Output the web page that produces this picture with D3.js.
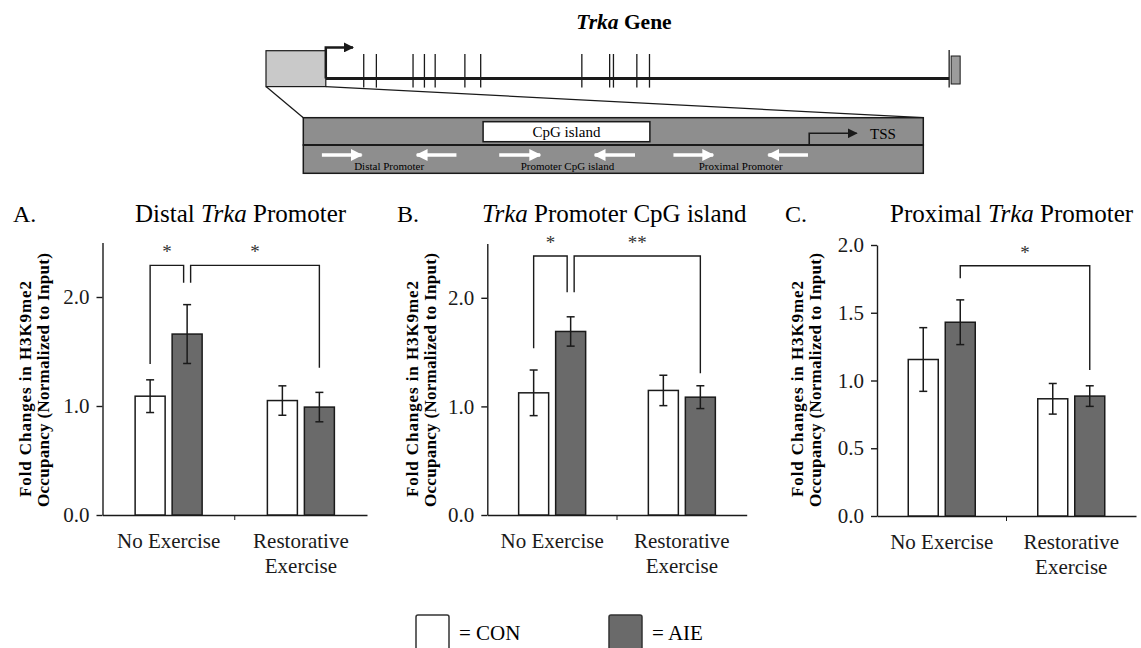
<!DOCTYPE html>
<html>
<head>
<meta charset="utf-8">
<script src="https://cdn.jsdelivr.net/npm/d3@7"></script>
<style>
  body { margin: 0; background: #fff; }
  svg { display: block; font-family: 'Liberation Serif', 'Times New Roman', serif; }
</style>
</head>
<body>
<div class="canvas"></div>
<script>
// ---- data ----
const groups = ['No Exercise', 'Restorative Exercise']
const groupLines = [['No Exercise'], ['Restorative', 'Exercise']]
const series = ['CON', 'AIE']

const distalCon = [1.09, 1.05]
const distalConErr = [0.15, 0.135]
const distalAie = [1.66, 0.99]
const distalAieErr = [0.27, 0.135]

const cpgCon = [1.125, 1.147]
const cpgConErr = [0.21, 0.14]
const cpgAie = [1.69, 1.085]
const cpgAieErr = [0.135, 0.105]

const proximalCon = [1.155, 0.865]
const proximalConErr = [0.235, 0.113]
const proximalAie = [1.43, 0.885]
const proximalAieErr = [0.165, 0.076]

const ticksAB = [0, 1, 2]
const ticksC = [0, 0.5, 1, 1.5, 2]

// brackets: from [group, series] to [group, series], top value, leg ends, label
const distalBrackets = [
    { from: [0, 'CON'], to: [0, 'AIE'], top: 2.29, legs: [1.385, 2.13], label: '*', shift: [0, -3.5] },
    { from: [0, 'AIE'], to: [1, 'AIE'], top: 2.29, legs: [2.13, 1.35], label: '*', shift: [3.5, 0] }
]
const cpgBrackets = [
    { from: [0, 'CON'], to: [0, 'AIE'], top: 2.385, legs: [1.535, 2.05], label: '*', shift: [0, -3.5] },
    { from: [0, 'AIE'], to: [1, 'AIE'], top: 2.385, legs: [2.05, 1.305], label: '**', shift: [3.5, 0] }
]
const proximalBrackets = [
    { from: [0, 'AIE'], to: [1, 'AIE'], top: 1.847, legs: [1.754, 1.077], label: '*', shift: [0, 0] }
]

// gene schematic (positions in % of gene / promoter length)
const exonPositions = [6.0, 8.0, 13.8, 15.6, 17.3, 22.0, 24.5, 40.5, 44.9, 45.5, 49.2, 51.2, 98.6]
const cpgIsland = [29.0, 55.9]
const tssPosition = 81.6
const primers = [
    { name: 'Distal Promoter', fwd: [3.0, 9.4], rev: [24.7, 18.3] },
    { name: 'Promoter CpG island', fwd: [31.6, 38.2], rev: [53.5, 47.0] },
    { name: 'Proximal Promoter', fwd: [59.7, 66.1], rev: [81.4, 75.0] }
]

// ---- layout ----
const colors = { CON: '#ffffff', AIE: '#6a6a6a' }
const ink = '#1a1a1a'

const svg = d3.select('.canvas')
    .append('svg')
    .attr('width', 1141)
    .attr('height', 648)

const defs = svg.append('defs')
const marker = (id, color, size) => defs.append('marker')
    .attr('id', id)
    .attr('viewBox', '0 0 10 10')
    .attr('refX', 9).attr('refY', 5)
    .attr('markerWidth', size).attr('markerHeight', size)
    .attr('markerUnits', 'userSpaceOnUse')
    .attr('orient', 'auto')
    .append('path')
    .attr('d', 'M0,0 L10,5 L0,10 z')
    .attr('fill', color)
marker('headBlack', ink, 10)
marker('headWhite', '#fff', 12)

// ---- gene schematic ----
const gene = svg.append('g')
const geneX = d3.scaleLinear().domain([0, 100]).range([325.8, 958])
const promX = d3.scaleLinear().domain([0, 100]).range([303.3, 923.3])
const lineY = 78.5

gene.append('text')
    .attr('x', 624).attr('y', 29)
    .attr('text-anchor', 'middle')
    .attr('font-size', 21.5)
    .attr('font-weight', 'bold')
    .call(t => {
        t.append('tspan').attr('font-style', 'italic').text('Trka')
        t.append('tspan').text(' Gene')
    })

// zoom lines
gene.append('line')
    .attr('x1', 266).attr('y1', 86.6).attr('x2', promX(0)).attr('y2', 117.7)
    .attr('stroke', ink).attr('stroke-width', 1.3)
gene.append('line')
    .attr('x1', geneX(0)).attr('y1', 86.6).attr('x2', promX(100)).attr('y2', 117.7)
    .attr('stroke', ink).attr('stroke-width', 1.3)

gene.append('line')
    .attr('x1', geneX(0)).attr('x2', geneX(98.6))
    .attr('y1', lineY).attr('y2', lineY)
    .attr('stroke', ink).attr('stroke-width', 3)

gene.selectAll('.exon')
    .data(exonPositions)
    .enter()
    .append('line')
    .attr('x1', d => geneX(d)).attr('x2', d => geneX(d))
    .attr('y1', (d, i) => i === exonPositions.length - 1 ? 50 : 54)
    .attr('y2', 87.6)
    .attr('stroke', ink).attr('stroke-width', 1.3)

gene.append('rect')
    .attr('x', 266).attr('y', 50.7)
    .attr('width', geneX(0) - 266).attr('height', 35.9)
    .attr('fill', '#c9c9c9').attr('stroke', ink).attr('stroke-width', 1.2)

gene.append('rect')
    .attr('x', geneX(98.6) + 2).attr('y', 56)
    .attr('width', 9).attr('height', 28)
    .attr('fill', '#9c9c9c').attr('stroke', ink).attr('stroke-width', 1)

gene.append('path')
    .attr('d', `M${geneX(0)},${lineY} V47.4 H353`)
    .attr('fill', 'none').attr('stroke', ink).attr('stroke-width', 2.5)
    .attr('marker-end', 'url(#headBlack)')

// promoter boxes
gene.append('rect')
    .attr('x', promX(0)).attr('y', 117.7)
    .attr('width', promX(100) - promX(0)).attr('height', 27.3)
    .attr('fill', '#8e8e8e').attr('stroke', ink).attr('stroke-width', 1.5)
gene.append('rect')
    .attr('x', promX(0)).attr('y', 145)
    .attr('width', promX(100) - promX(0)).attr('height', 28.3)
    .attr('fill', '#8e8e8e').attr('stroke', ink).attr('stroke-width', 1.5)
gene.append('line')
    .attr('x1', promX(0)).attr('x2', promX(100))
    .attr('y1', 145).attr('y2', 145)
    .attr('stroke', ink).attr('stroke-width', 2.2)

gene.append('rect')
    .attr('x', promX(cpgIsland[0])).attr('y', 121.7)
    .attr('width', promX(cpgIsland[1]) - promX(cpgIsland[0])).attr('height', 20)
    .attr('fill', '#fff').attr('stroke', ink).attr('stroke-width', 1.5)
gene.append('text')
    .attr('x', promX(d3.mean(cpgIsland))).attr('y', 137)
    .attr('text-anchor', 'middle')
    .attr('font-size', 15)
    .text('CpG island')

gene.append('path')
    .attr('d', `M${promX(tssPosition)},145 V133.3 H856.7`)
    .attr('fill', 'none').attr('stroke', ink).attr('stroke-width', 1.6)
    .attr('marker-end', 'url(#headBlack)')
gene.append('text')
    .attr('x', 870).attr('y', 138.5)
    .attr('font-size', 15)
    .text('TSS')

const primerG = gene.selectAll('.primer')
    .data(primers)
    .enter()
    .append('g')

primerG.each(function(d) {
    const g = d3.select(this)
    ;[d.fwd, d.rev].forEach(a => {
        g.append('line')
            .attr('x1', promX(a[0])).attr('x2', promX(a[1]))
            .attr('y1', 155).attr('y2', 155)
            .attr('stroke', '#fff').attr('stroke-width', 3.5)
            .attr('marker-end', 'url(#headWhite)')
    })
    g.append('text')
        .attr('x', promX((d.fwd[1] + d.rev[1]) / 2))
        .attr('y', 169.5)
        .attr('text-anchor', 'middle')
        .attr('font-size', 11)
        .attr('fill', '#000')
        .text(d.name)
})

// ---- bar panels ----
const panels = [
    {
        letter: 'A.', letterX: 13, titleX: 135,
        title: [['Distal ', false], ['Trka', true], [' Promoter', false]],
        con: distalCon, conErr: distalConErr, aie: distalAie, aieErr: distalAieErr,
        brackets: distalBrackets, ticks: ticksAB, max: 2.5,
        left: 102.5, right: 367, top: 242.5, bottom: 515, labelX: [31, 49]
    },
    {
        letter: 'B.', letterX: 397, titleX: 482,
        title: [['Trka', true], [' Promoter CpG island', false]],
        con: cpgCon, conErr: cpgConErr, aie: cpgAie, aieErr: cpgAieErr,
        brackets: cpgBrackets, ticks: ticksAB, max: 2.5,
        left: 487.3, right: 746.7, top: 243.5, bottom: 515, labelX: [418, 436]
    },
    {
        letter: 'C.', letterX: 785, titleX: 890,
        title: [['Proximal ', false], ['Trka', true], [' Promoter', false]],
        con: proximalCon, conErr: proximalConErr, aie: proximalAie, aieErr: proximalAieErr,
        brackets: proximalBrackets, ticks: ticksC, max: 2,
        left: 877, right: 1136, top: 245, bottom: 516, labelX: [803, 821]
    }
]

const drawPanel = (p) => {
    const g = svg.append('g')

    const x = d3.scaleBand().domain(groups).range([p.left, p.right])
    const xInner = d3.scaleBand().domain(series).range([0, 67]).paddingInner(7 / 37)
    const y = d3.scaleLinear().domain([0, p.max]).range([p.bottom, p.top])

    const barLeft = (gi, s) => x(groups[gi]) + x.bandwidth() / 2 - 33.5 + xInner(s)
    const barMid = (gi, s) => barLeft(gi, s) + xInner.bandwidth() / 2

    // titles
    g.append('text')
        .attr('x', p.letterX).attr('y', 222)
        .attr('font-size', 24)
        .text(p.letter)
    g.append('text')
        .attr('x', p.titleX).attr('y', 222)
        .attr('font-size', 25)
        .selectAll('tspan')
        .data(p.title)
        .enter()
        .append('tspan')
        .attr('font-style', d => d[1] ? 'italic' : 'normal')
        .text(d => d[0])

    // y axis label
    const labelLines = ['Fold Changes in H3K9me2', 'Occupancy (Normalized to Input)']
    const labelLen = [216, 254]
    const labelMid = [389, 380]
    labelLines.forEach((t, i) => {
        g.append('text')
            .attr('transform', `translate(${p.labelX[i]}, ${labelMid[i]}) rotate(-90)`)
            .attr('text-anchor', 'middle')
            .attr('font-size', 17)
            .attr('font-weight', 'bold')
            .attr('textLength', labelLen[i])
            .attr('lengthAdjust', 'spacing')
            .text(t)
    })

    // axes
    const yAxis = g.append('g')
        .attr('transform', `translate(${p.left}, 0)`)
        .call(d3.axisLeft(y)
            .tickValues(p.ticks)
            .tickFormat(d3.format('.1f'))
            .tickSize(6)
            .tickSizeOuter(0)
            .tickPadding(7))
    yAxis.attr('font-family', null)
    yAxis.selectAll('text')
        .attr('font-size', 21)
        .attr('fill', ink)

    const xAxis = g.append('g')
        .attr('transform', `translate(0, ${p.bottom})`)
        .call(d3.axisBottom(x).tickSize(0).tickSizeOuter(0).tickPadding(0))
    xAxis.attr('font-family', null)
    xAxis.selectAll('.tick text')
        .attr('font-size', 21)
        .attr('fill', ink)
        .attr('dy', null)
        .attr('y', 0)
        .text(null)
        .each(function(d, i) {
            d3.select(this).selectAll('tspan')
                .data(groupLines[i])
                .enter()
                .append('tspan')
                .attr('x', 0)
                .attr('y', (t, j) => 33 + j * 25)
                .text(t => t)
        })
    g.append('line')
        .attr('x1', x(groups[1])).attr('x2', x(groups[1]))
        .attr('y1', p.bottom).attr('y2', p.bottom + 5)
        .attr('stroke', ink)

    g.selectAll('.domain, .tick line')
        .attr('stroke', ink)
        .attr('stroke-width', 1.4)

    // bars
    const bars = []
    groups.forEach((grp, gi) => {
        bars.push({ gi, s: 'CON', v: p.con[gi], e: p.conErr[gi] })
        bars.push({ gi, s: 'AIE', v: p.aie[gi], e: p.aieErr[gi] })
    })

    g.selectAll('.bar')
        .data(bars)
        .enter()
        .append('rect')
        .attr('x', d => barLeft(d.gi, d.s))
        .attr('y', d => y(d.v))
        .attr('width', xInner.bandwidth())
        .attr('height', d => y(0) - y(d.v))
        .attr('fill', d => colors[d.s])
        .attr('stroke', ink)
        .attr('stroke-width', 1.5)

    const err = g.selectAll('.err')
        .data(bars)
        .enter()
        .append('g')
        .attr('stroke', ink)
        .attr('stroke-width', 1.5)
    err.append('line')
        .attr('x1', d => barMid(d.gi, d.s)).attr('x2', d => barMid(d.gi, d.s))
        .attr('y1', d => y(d.v + d.e)).attr('y2', d => y(d.v - d.e))
    err.append('line')
        .attr('x1', d => barMid(d.gi, d.s) - 4).attr('x2', d => barMid(d.gi, d.s) + 4)
        .attr('y1', d => y(d.v + d.e)).attr('y2', d => y(d.v + d.e))
    err.append('line')
        .attr('x1', d => barMid(d.gi, d.s) - 4).attr('x2', d => barMid(d.gi, d.s) + 4)
        .attr('y1', d => y(d.v - d.e)).attr('y2', d => y(d.v - d.e))

    // significance brackets
    p.brackets.forEach(b => {
        const x1 = barMid(b.from[0], b.from[1]) + b.shift[0]
        const x2 = barMid(b.to[0], b.to[1]) + b.shift[1]
        g.append('path')
            .attr('d', `M${x1},${y(b.legs[0])} V${y(b.top)} H${x2} V${y(b.legs[1])}`)
            .attr('fill', 'none')
            .attr('stroke', ink)
            .attr('stroke-width', 1.4)
        g.append('text')
            .attr('x', (x1 + x2) / 2)
            .attr('y', y(b.top) - 7)
            .attr('text-anchor', 'middle')
            .attr('font-size', 19)
            .attr('fill', '#333')
            .text(b.label)
    })
}

panels.forEach(drawPanel)

// ---- legend ----
const legend = svg.append('g')
const legendX = { CON: 416, AIE: 609 }
series.forEach(s => {
    legend.append('rect')
        .attr('x', legendX[s]).attr('y', 615)
        .attr('width', 33).attr('height', 40)
        .attr('rx', 2)
        .attr('fill', colors[s])
        .attr('stroke', '#333')
        .attr('stroke-width', 1.5)
    legend.append('text')
        .attr('x', legendX[s] + 43).attr('y', 640)
        .attr('font-size', 21)
        .text('= ' + s)
})
</script>
</body>
</html>
